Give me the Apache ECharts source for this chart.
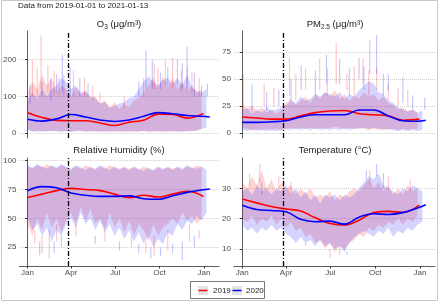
<!DOCTYPE html>
<html>
<head>
<meta charset="utf-8">
<script src="https://cdn.jsdelivr.net/npm/echarts@6/dist/echarts.min.js"></script>
<style>
  html, body { margin: 0; padding: 0; background: #fff; }
  #chart { width: 440px; height: 303px; }
</style>
</head>
<body>
<div id="chart"></div>
<script>
// day of year, raw envelope sampled every 10 days
const rawDays19 = [0,10,20,30,40,50,60,70,80,90,100,110,120,130,140,150,160,170,180,190,200,210,220,230,240,250,260,270,280,290,300,310,320,330,340,350,360];
const rawDays20 = [0,10,20,30,40,50,60,70,80,90,100,110,120,130,140,150,160,170,180,190,200,210,220,230,240,250,260,270,280,290,300,310,320,330,340,350,360,370];
const fitDays19 = [0,30,60,90,120,150,180,210,240,270,300,330,364];
const fitDays20 = [0,30,60,90,120,150,180,210,240,270,300,330,360,377];
const monthTicks = [0, 90, 181, 273, 365];
const monthLabels = ["Jan", "Apr", "Jul", "Oct", "Jan"];
const cutoffDay = 84;

// O3
const o3Hi19 = [110,140,120,160,130,150,110,130,120,100,125,105,115,95,100,80,90,70,85,65,80,70,90,95,110,130,150,120,155,125,150,120,140,115,130,110,120];
const o3Lo19 = [12,5,8,4,6,5,8,4,6,5,8,6,4,7,5,4,6,5,4,6,5,4,6,5,7,4,6,5,4,7,5,4,6,5,8,6,10];
const o3Hi20 = [90,110,95,120,100,120,130,150,140,120,130,110,115,100,95,80,85,70,75,80,85,95,100,120,140,155,140,130,145,150,135,150,130,160,125,115,110,120];
const o3Lo20 = [8,5,4,6,5,7,4,5,6,4,5,7,5,4,6,5,4,5,6,4,5,6,4,5,6,5,4,6,5,4,6,5,4,6,5,8,12,15];
const o3Spk19 = [[10,100,200],[20,100,175],[28,120,265],[42,110,185],[55,100,170],[65,100,150],[75,100,160],[95,100,170],[118,100,150],[135,90,130],[150,80,110],[200,70,100],[240,100,150],[262,120,190],[270,120,175],[285,130,200],[300,120,205],[318,110,170],[330,110,180],[340,110,165],[355,100,150]];
const o3Spk20 = [[5,80,130],[30,100,140],[48,90,150],[60,110,160],[72,110,215],[88,100,180],[108,100,150],[125,100,135],[230,100,140],[245,120,225],[258,120,200],[275,120,165],[290,130,180],[310,130,200],[320,120,190],[330,120,235],[345,100,165],[360,100,130],[372,100,135]];
const o3Fit19 = [56,43,35,34,34,28,21,30,35,52,51,41,54];
const o3Fit20 = [38,33,39,51,44,36,32,36,46,56,53,48,46,44];

// PM2.5
const pmHi19 = [28,22,26,20,24,19,22,18,21,28,32,26,30,34,28,36,32,38,34,40,32,36,30,35,32,38,34,36,30,34,28,26,22,24,20,22,19];
const pmLo19 = [5,4,3,4,3,4,3,4,3,4,5,4,5,4,5,4,5,4,5,6,5,4,5,4,5,4,3,4,3,4,3,4,3,4,3,4,4];
const pmHi20 = [20,24,18,22,19,24,21,22,24,26,30,28,34,30,32,36,34,38,36,34,38,32,36,34,40,44,48,46,38,36,30,28,24,22,20,22,19,21];
const pmLo20 = [3,2,3,2,3,2,3,2,3,4,3,4,3,4,3,4,3,4,3,4,3,4,3,4,4,5,4,5,4,3,4,3,2,3,2,3,2,3];
const pmSpk19 = [[2,20,55],[45,25,45],[65,25,42],[97,35,70],[110,30,55],[130,40,60],[159,40,69],[175,35,60],[193,45,84],[215,40,55],[230,35,62],[248,45,70],[260,35,58],[276,40,61],[300,30,45],[320,25,42],[340,25,40]];
const pmSpk20 = [[20,20,45],[50,22,38],[75,25,40],[100,30,50],[121,40,63],[150,35,58],[173,45,73],[200,45,69],[220,35,60],[240,50,70],[250,40,62],[262,55,86],[276,55,91],[290,35,55],[300,40,55],[330,28,52],[350,22,35],[375,22,33]];
const pmFit19 = [15,14,13,13,16,19,20.5,21,18,17,16,12,13];
const pmFit20 = [10,10,10.5,11.5,15,17,17,17,21.5,21.5,16,11.5,11,12];

// Relative humidity
const rhHi19 = [95,93,96,94,97,95,93,96,94,92,95,93,96,94,92,95,93,96,94,92,95,93,94,92,95,93,91,94,92,95,93,94,92,95,93,96,94];
const rhLo19 = [45,35,50,40,55,42,50,38,48,55,45,60,48,58,45,50,40,55,42,50,38,48,35,45,40,30,45,35,42,45,50,45,55,48,52,45,50];
const rhHi20 = [96,94,97,95,93,96,94,97,95,93,96,94,92,95,93,96,94,92,95,93,94,92,95,93,91,94,92,95,93,94,92,95,93,96,94,93,95,92];
const rhLo20 = [50,40,45,35,42,30,40,35,45,50,42,55,45,50,40,48,38,45,35,42,32,40,30,38,28,35,25,32,28,38,35,45,40,48,45,52,48,55];
const rhSpk19 = [[15,40,28],[30,35,20],[45,40,15],[60,45,30],[100,45,35],[160,40,30],[215,35,25],[245,30,20],[262,35,18],[290,40,22],[335,45,30],[355,40,32]];
const rhSpk20 = [[25,30,18],[55,30,20],[70,35,25],[140,35,28],[190,30,22],[230,28,20],[255,25,15],[275,25,17],[300,28,20],[320,30,14],[345,35,25]];
const rhFit19 = [68,71,74,76,75,74,71,68,70,68.5,71,73.5,69];
const rhFit20 = [74,77.5,76.5,72,70,69,69,69.5,67,66.5,69.5,72.5,74.5,75.5];

// Temperature
const tHi19 = [32,30,34,31,36,30,33,29,32,30,31,28,30,28,30,27,28,27,29,26,28,27,29,30,29,31,33,30,32,29,31,28,30,28,31,29,30];
const tLo19 = [20,19,21,18,20,19,21,18,20,17,19,16,17,14,15,12,13,10,12,9,11,10,12,13,15,14,17,16,18,17,19,18,20,18,20,19,21];
const tHi20 = [29,30,28,31,29,30,28,30,29,31,28,30,27,29,26,28,25,28,27,28,26,28,27,28,30,32,34,33,35,31,30,29,28,30,29,31,30,29];
const tLo20 = [18,16,17,15,17,16,18,16,17,15,14,12,14,12,13,11,13,11,12,10,11,9,12,14,15,16,15,14,16,15,17,14,16,15,17,16,18,19];
const tSpk19 = [[15,31,35],[36,32,38],[75,30,34],[100,28,32],[180,10,7],[200,11,8],[262,31,36],[300,30,34],[345,29,33]];
const tSpk20 = [[40,28,32],[85,29,33],[130,12,11],[215,9,8],[255,33,36],[276,34,38],[290,30,35]];
const tFit19 = [26.5,25.2,24,23.2,22.5,20.3,18.4,17.9,19.5,22,22.4,22.1,24.5];
const tFit20 = [24.4,23,22.7,22.3,19.8,19,19.2,18.2,20.5,21.6,21.4,22,23.5,24.6];

const FONT = "Liberation Sans, Arial, sans-serif";
const RED = "#ff0000", BLUE = "#0000ff";

const panels = [
  { grid: { left: 19, top: 31, width: 200, height: 107 }, y: [-13, 278], ticks: [0, 100, 200], bottom: false,
    lo19: o3Lo19, hi19: o3Hi19, lo20: o3Lo20, hi20: o3Hi20, spk19: o3Spk19, spk20: o3Spk20, fit19: o3Fit19, fit20: o3Fit20 },
  { grid: { left: 234, top: 31, width: 201, height: 107 }, y: [-4.5, 94.7], ticks: [0, 25, 50, 75], bottom: false,
    lo19: pmLo19, hi19: pmHi19, lo20: pmLo20, hi20: pmHi20, spk19: pmSpk19, spk20: pmSpk20, fit19: pmFit19, fit20: pmFit20 },
  { grid: { left: 19, top: 158, width: 200, height: 108 }, y: [8.7, 102.3], ticks: [25, 50, 75, 100], bottom: true,
    lo19: rhLo19, hi19: rhHi19, lo20: rhLo20, hi20: rhHi20, spk19: rhSpk19, spk20: rhSpk20, fit19: rhFit19, fit20: rhFit20 },
  { grid: { left: 234, top: 158, width: 201, height: 108 }, y: [4.4, 40], ticks: [10, 20, 30], bottom: true,
    lo19: tLo19, hi19: tHi19, lo20: tLo20, hi20: tHi20, spk19: tSpk19, spk20: tSpk20, fit19: tFit19, fit20: tFit20 }
];

function bandSeries(i, days, lo, hi, fill) {
  return {
    type: "custom", xAxisIndex: i, yAxisIndex: i, silent: true, z: 1,
    data: days.map((d, k) => [d, lo[k], hi[k]]),
    renderItem(params, api) {
      if (params.dataIndex !== 0) return;
      const top = days.map((d, k) => api.coord([d, hi[k]]));
      const bot = days.map((d, k) => api.coord([d, lo[k]])).reverse();
      return { type: "polygon", shape: { points: top.concat(bot) }, style: { fill: fill } };
    }
  };
}

function spikeSeries(i, spikes, stroke) {
  return {
    type: "custom", xAxisIndex: i, yAxisIndex: i, silent: true, z: 2,
    data: spikes,
    renderItem(params, api) {
      const a = api.coord([api.value(0), api.value(1)]);
      const b = api.coord([api.value(0), api.value(2)]);
      return { type: "line", shape: { x1: a[0], y1: a[1], x2: b[0], y2: b[1] }, style: { stroke: stroke, lineWidth: 1.2 } };
    }
  };
}

function fitSeries(i, days, vals, color, withCutoff) {
  const s = {
    type: "line", xAxisIndex: i, yAxisIndex: i, silent: true, z: 3,
    data: days.map((d, k) => [d, vals[k]]),
    smooth: 0.4, symbol: "none",
    lineStyle: { color: color, width: 1.6 }
  };
  if (withCutoff) {
    s.markLine = {
      silent: true, symbol: ["none", "none"], label: { show: false },
      lineStyle: { color: "#000", width: 1.3, type: [5, 2, 1, 2] },
      data: [{ xAxis: cutoffDay }]
    };
  }
  return s;
}

const grids = [], xAxes = [], yAxes = [], series = [];
panels.forEach((p, i) => {
  grids.push(p.grid);
  xAxes.push({
    type: "value", gridIndex: i, min: -17, max: 396,
    splitLine: { show: false },
    axisLine: { show: p.bottom, lineStyle: { color: "#333", width: 0.8 } },
    axisTick: { show: p.bottom, length: 2.5, customValues: monthTicks, lineStyle: { color: "#333" } },
    axisLabel: {
      show: p.bottom, customValues: monthTicks, margin: 3,
      color: "#4d4d4d", fontSize: 8, fontFamily: FONT,
      formatter: v => monthLabels[monthTicks.indexOf(v)]
    }
  });
  yAxes.push({
    type: "value", gridIndex: i, min: p.y[0], max: p.y[1],
    axisLine: { show: true, lineStyle: { color: "#333", width: 0.8 } },
    axisTick: { show: true, length: 2.5, customValues: p.ticks, lineStyle: { color: "#333" } },
    axisLabel: { customValues: p.ticks, margin: 3, color: "#4d4d4d", fontSize: 8, fontFamily: FONT },
    splitLine: { show: true, lineStyle: { color: "#cfcfcf", type: "dotted", width: 1 } }
  });
  series.push(
    bandSeries(i, rawDays19, p.lo19, p.hi19, "rgba(255,40,40,0.2)"),
    bandSeries(i, rawDays20, p.lo20, p.hi20, "rgba(40,40,255,0.2)"),
    spikeSeries(i, p.spk19, "rgba(255,0,0,0.22)"),
    spikeSeries(i, p.spk20, "rgba(0,0,255,0.22)"),
    fitSeries(i, fitDays19, p.fit19, RED, false),
    fitSeries(i, fitDays20, p.fit20, BLUE, true)
  );
});

const titleRich = {
  n: { fontSize: 9.5, fontFamily: FONT, fill: "#1a1a1a", lineHeight: 13 },
  s: { fontSize: 6.5, fontFamily: FONT, fill: "#1a1a1a", lineHeight: 8, verticalAlign: "bottom" }
};
function panelTitle(x, y, text) {
  return { type: "text", x: x, y: y, silent: true,
    style: { text: text, rich: titleRich, align: "center", verticalAlign: "middle", fontSize: 9.5, fontFamily: FONT, fill: "#1a1a1a" } };
}

const graphic = [
  { type: "rect", silent: true, shape: { x: 1.5, y: 0.5, width: 436, height: 300 }, style: { fill: "none", stroke: "#c8c8c8", lineWidth: 1 } },
  { type: "text", x: 18, y: 6, silent: true,
    style: { text: "Data from 2019-01-01 to 2021-01-13", fontSize: 8, fontFamily: FONT, fill: "#1a1a1a", verticalAlign: "middle" } },
  panelTitle(119, 24, "{n|O}{s|3}{n| (μg/m³)}"),
  panelTitle(335, 24, "{n|PM}{s|2.5}{n| (μg/m³)}"),
  panelTitle(119, 150, "{n|Relative Humidity (%)}"),
  panelTitle(335, 150, "{n|Temperature (°C)}"),
  // legend
  { type: "rect", silent: true, shape: { x: 190.5, y: 281.5, width: 74, height: 17 }, style: { fill: "#fff", stroke: "#555", lineWidth: 0.8 } },
  { type: "rect", silent: true, shape: { x: 198, y: 286, width: 10, height: 9 }, style: { fill: "#e3e3e3" } },
  { type: "line", silent: true, shape: { x1: 198.5, y1: 290.5, x2: 207.5, y2: 290.5 }, style: { stroke: RED, lineWidth: 1.5 } },
  { type: "text", x: 213, y: 290.5, silent: true, style: { text: "2019", fontSize: 8, fontFamily: FONT, fill: "#1a1a1a", verticalAlign: "middle" } },
  { type: "rect", silent: true, shape: { x: 232, y: 286, width: 10, height: 9 }, style: { fill: "#e3e3e3" } },
  { type: "line", silent: true, shape: { x1: 232.5, y1: 290.5, x2: 241.5, y2: 290.5 }, style: { stroke: BLUE, lineWidth: 1.5 } },
  { type: "text", x: 246, y: 290.5, silent: true, style: { text: "2020", fontSize: 8, fontFamily: FONT, fill: "#1a1a1a", verticalAlign: "middle" } }
];

const chart = echarts.init(document.getElementById("chart"));
chart.setOption({
  animation: false,
  backgroundColor: "#fff",
  grid: grids,
  xAxis: xAxes,
  yAxis: yAxes,
  series: series,
  graphic: graphic
});
</script>
</body>
</html>
